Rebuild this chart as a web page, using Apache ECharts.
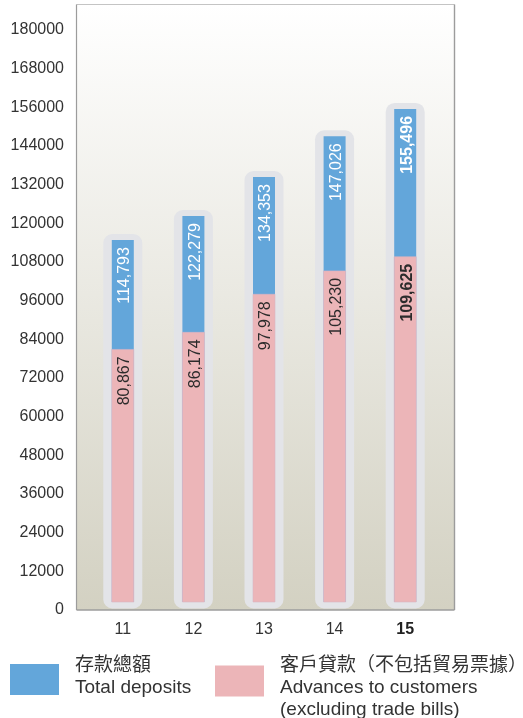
<!DOCTYPE html>
<html>
<head>
<meta charset="utf-8">
<script src="https://cdn.jsdelivr.net/npm/echarts@6/dist/echarts.min.js"></script>
<style>
html,body{margin:0;padding:0;background:#fff;}
#chart{width:523px;height:718px;}
</style>
</head>
<body>
<div id="chart"></div>
<script>
const years = ['11', '12', '13', '14', '15'];
const totalDeposits = [114793, 122279, 134353, 147026, 155496];
const advances = [80867, 86174, 97978, 105230, 109625];
const boldYears = ['15'];
const depositsName = 'Total deposits';
const advancesName = 'Advances to customers';
const legendLines = {
  'Total deposits': ['存款總額', 'Total deposits'],
  'Advances to customers': ['客戶貸款（不包括貿易票據）', 'Advances to customers', '(excluding trade bills)']
};

const FONT = "'Liberation Sans', 'Noto Sans CJK TC', Arial, sans-serif";
const BLUE = '#63a6da';
const PINK = '#ecb5b8';
const HALO = '#e3e4e8';
const fmt = v => v.toLocaleString('en-US');

const chart = echarts.init(document.getElementById('chart'), null, {renderer: 'canvas'});

function segRender(color, textColor, isBase) {
  return function (params, api) {
    const idx = api.value(0);
    const val = api.value(1);
    const top = api.coord([idx, val]);
    const base = api.coord([idx, 0]);
    const cx = top[0];
    const bw = 22;
    const bottom = base[1] - 8;
    const bold = boldYears.indexOf(years[idx]) >= 0;
    const children = [];
    if (isBase) {
      children.push({
        type: 'rect',
        shape: {x: cx - 19.5, y: top[1] - 6, width: 39, height: bottom + 6.5 - (top[1] - 6), r: 9},
        style: {fill: HALO}
      });
    }
    children.push({
      type: 'rect',
      shape: {x: cx - bw / 2, y: top[1], width: bw, height: bottom - top[1]},
      style: {fill: color, stroke: isBase ? null : '#d9b6c4', lineWidth: isBase ? 0 : 0.6}
    });
    children.push({
      type: 'text',
      x: cx + 2,
      y: top[1] + 7,
      rotation: Math.PI / 2,
      style: {
        text: fmt(val),
        fill: textColor,
        font: (bold ? 'bold ' : '') + '16px ' + FONT,
        align: 'right',
        verticalAlign: 'middle'
      }
    });
    return {type: 'group', children: children};
  };
}

function legendText(name, spacerTop, spacerBottom) {
  const lines = legendLines[name].map(s => '{t|' + s + '}');
  if (spacerTop) lines.unshift('{' + spacerTop + '|}');
  if (spacerBottom) lines.push('{' + spacerBottom + '|}');
  return lines.join('\n');
}

const richLegend = {
  t: {fontSize: 19, lineHeight: 22, color: '#333', fontFamily: FONT, padding: [0, 0, 0, 11]},
  s6: {height: 6, lineHeight: 6, fontSize: 1},
  s14: {height: 14, lineHeight: 14, fontSize: 1}
};

const option = {
  animation: false,
  backgroundColor: '#ffffff',
  graphic: [
    {
      type: 'rect', z: -10, silent: true,
      shape: {x: 76.5, y: 4.5, width: 378, height: 605.5},
      style: {
        fill: new echarts.graphic.LinearGradient(0, 0, 0, 1, [
          {offset: 0, color: '#ffffff'},
          {offset: 1, color: '#d3d1c2'}
        ])
      }
    },
    {type: 'line', z: 50, silent: true, shape: {x1: 76.5, y1: 4.5, x2: 454.5, y2: 4.5}, style: {stroke: '#c4c4c4', lineWidth: 1.2}},
    {type: 'line', z: 50, silent: true, shape: {x1: 76.5, y1: 4.5, x2: 76.5, y2: 610}, style: {stroke: '#9c9c9c', lineWidth: 1.2}},
    {type: 'line', z: 50, silent: true, shape: {x1: 454.5, y1: 4.5, x2: 454.5, y2: 610}, style: {stroke: '#9c9c9c', lineWidth: 1.4}},
    {type: 'line', z: 50, silent: true, shape: {x1: 76.5, y1: 610, x2: 454.5, y2: 610}, style: {stroke: '#9c9c9c', lineWidth: 1.4}}
  ],
  grid: {left: 87.5, right: 82.5, top: 30, bottom: 108},
  xAxis: {
    type: 'category',
    data: years,
    axisLine: {show: false},
    axisTick: {show: false},
    axisLabel: {
      margin: 12,
      fontSize: 16,
      color: '#333',
      fontFamily: FONT,
      formatter: v => boldYears.indexOf(v) >= 0 ? '{b|' + v + '}' : v,
      rich: {b: {fontWeight: 'bold', fontSize: 16, color: '#222', fontFamily: FONT}}
    }
  },
  yAxis: {
    type: 'value',
    min: 0,
    max: 180000,
    interval: 12000,
    axisLine: {show: false},
    axisTick: {show: false},
    splitLine: {show: false},
    axisLabel: {margin: 23.5, fontSize: 16, color: '#333', fontFamily: FONT, formatter: v => String(v)}
  },
  legend: [
    {
      left: 10, top: 656, padding: 0,
      itemWidth: 49, itemHeight: 31,
      selectedMode: false,
      data: [{name: depositsName, icon: 'rect'}],
      formatter: n => legendText(n, null, 's6'),
      textStyle: {fontSize: 19, color: '#333', fontFamily: FONT, rich: richLegend}
    },
    {
      left: 215, top: 641, padding: 0,
      itemWidth: 49, itemHeight: 31,
      selectedMode: false,
      data: [{name: advancesName, icon: 'rect'}],
      formatter: n => legendText(n, 's14', null),
      textStyle: {fontSize: 19, color: '#333', fontFamily: FONT, rich: richLegend}
    }
  ],
  series: [
    {
      name: depositsName,
      type: 'custom',
      itemStyle: {color: BLUE},
      encode: {x: 0, y: 1},
      renderItem: segRender(BLUE, '#ffffff', true),
      data: years.map((y, i) => [i, totalDeposits[i]])
    },
    {
      name: advancesName,
      type: 'custom',
      itemStyle: {color: PINK},
      encode: {x: 0, y: 1},
      renderItem: segRender(PINK, '#2b2b2b', false),
      data: years.map((y, i) => [i, advances[i]])
    }
  ]
};
chart.setOption(option);
</script>
</body>
</html>
